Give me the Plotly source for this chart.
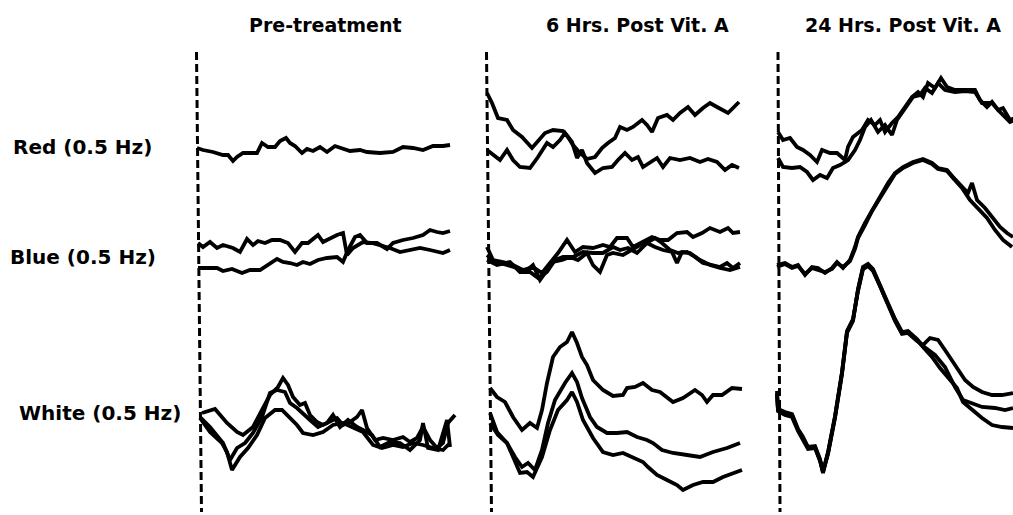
import plotly.graph_objects as go

# ---------------- data (time in samples, amplitude in arbitrary units) ----------------
panel_titles = ["Pre-treatment", "6 Hrs. Post Vit. A", "24 Hrs. Post Vit. A"]
row_labels = ["Red (0.5 Hz)", "Blue (0.5 Hz)", "White (0.5 Hz)"]

# ---- Pre-treatment ----
pre_red_t = [7, 13, 23, 33, 38, 43, 47, 53, 60, 67, 72, 78, 85, 90, 96, 100, 105, 112, 117, 123, 130, 137, 145, 153, 160, 170, 177, 190, 203, 213, 223, 233, 243, 253, 260]
pre_red_v = [2, 0, -2, -5, -5, -11, -7, -3, -3, -3, 7, 3, 3, 9, 12, 7, 4, -3, 1, -1, 3, -2, 4, 1, -1, 0, -2, -3, -2, 3, 2, 0, 4, 4, 5]

pre_blue1_t = [8, 13, 20, 27, 33, 43, 50, 57, 63, 68, 75, 82, 90, 98, 105, 112, 118, 128, 133, 140, 147, 153, 157, 163, 173, 182, 190, 200, 210, 220, 230, 240, 247, 253, 260]
pre_blue1_v = [12, 8, 13, 7, 10, 7, 3, 16, 10, 14, 12, 15, 15, 12, 3, 12, 12, 20, 13, 17, 20, 22, 0, 7, 13, 12, 10, 7, 3, 5, 7, 5, 3, 2, 5]
pre_blue2_t = [8, 17, 27, 33, 42, 52, 60, 70, 78, 87, 93, 100, 107, 113, 120, 128, 137, 147, 153, 158, 165, 170, 177, 187, 197, 203, 213, 223, 233, 240, 247, 253, 260]
pre_blue2_v = [-13, -13, -13, -16, -14, -18, -15, -15, -10, -4, -7, -8, -10, -7, -9, -5, -3, -2, -7, 5, 18, 20, 12, 12, 6, 12, 15, 17, 20, 25, 23, 22, 24]

pre_white1_t = [12, 25, 37, 47, 53, 63, 72, 80, 88, 93, 98, 103, 110, 115, 120, 127, 133, 140, 147, 153, 160, 167, 172, 177, 185, 193, 203, 213, 220, 227, 233, 240, 247, 253, 258, 265]
pre_white1_v = [2, 6, -8, -17, -20, -12, 5, 20, 28, 37, 30, 18, 10, 12, 0, -7, -10, -7, -3, -10, -7, -2, 5, -13, -25, -23, -25, -22, -27, -23, -12, -25, -33, -28, -8, 0]
pre_white2_t = [10, 20, 33, 40, 47, 55, 63, 72, 80, 87, 95, 100, 107, 113, 120, 128, 137, 143, 150, 158, 167, 173, 182, 190, 200, 210, 220, 230, 233, 238, 248, 257, 260]
pre_white2_v = [-2, -12, -28, -45, -33, -28, -18, -2, 22, 25, 23, 12, 7, 2, -5, -12, -8, 0, -12, -5, -12, -15, -20, -32, -27, -28, -35, -25, -8, -33, -35, -5, -32]
pre_white3_t = [10, 20, 32, 37, 42, 50, 58, 67, 75, 85, 92, 100, 107, 113, 123, 133, 143, 153, 163, 173, 183, 192, 203, 213, 223, 233, 243, 253, 260]
pre_white3_v = [-3, -17, -28, -37, -55, -42, -33, -20, -3, 5, 5, -3, -10, -18, -20, -17, -10, -8, -12, -17, -30, -33, -30, -32, -28, -30, -33, -35, -28]

# ---- 6 Hrs. Post Vit. A ----
h6_red1_t = [7, 12, 18, 27, 33, 42, 52, 57, 65, 73, 83, 88, 93, 100, 107, 115, 122, 128, 135, 140, 147, 153, 162, 167, 172, 178, 187, 193, 200, 208, 215, 223, 230, 237, 243, 248, 253, 259]
h6_red1_v = [57, 47, 32, 30, 20, 13, 2, 8, 17, 20, 19, 13, 5, -3, -9, -7, 2, 7, 12, 23, 20, 23, 30, 25, 18, 32, 35, 30, 37, 43, 35, 42, 47, 43, 40, 37, 42, 48]
h6_red2_t = [7, 13, 20, 27, 33, 40, 50, 58, 67, 73, 80, 85, 92, 97, 102, 107, 115, 123, 132, 138, 145, 152, 158, 163, 170, 177, 183, 190, 200, 210, 220, 228, 237, 245, 252, 259]
h6_red2_v = [0, -5, -10, 0, -10, -17, -18, -7, 7, 3, 10, 17, 8, -8, 0, -13, -23, -18, -17, -10, -3, -10, -7, -17, -13, -8, -17, -8, -10, -8, -12, -9, -12, -20, -15, -18]

h6_blue1_t = [7, 13, 23, 33, 43, 53, 62, 70, 78, 87, 95, 103, 113, 123, 130, 137, 147, 153, 163, 172, 180, 188, 197, 207, 213, 222, 230, 240, 248, 253, 260]
h6_blue1_v = [8, -5, -7, -10, -15, -12, -18, -8, 2, 15, 3, 8, 7, 10, 8, 17, 17, 8, 13, 18, 15, 15, 22, 23, 18, 22, 27, 23, 27, 22, 23]
h6_blue2_t = [7, 15, 27, 37, 45, 53, 60, 67, 73, 82, 90, 98, 107, 113, 120, 127, 133, 143, 152, 160, 168, 175, 182, 190, 198, 207, 215, 223, 232, 240, 247, 253, 260]
h6_blue2_v = [0, -7, -10, -13, -17, -10, -25, -15, -7, -5, -2, -5, 2, -10, -17, 0, 2, 0, 5, 10, 13, 17, 12, 5, 2, 3, -2, -8, -10, -12, -8, -13, -8]
h6_blue3_t = [7, 17, 30, 40, 50, 58, 67, 75, 83, 93, 103, 113, 123, 133, 140, 148, 157, 167, 175, 183, 192, 197, 202, 210, 220, 230, 240, 250, 260]
h6_blue3_v = [-5, -10, -7, -17, -17, -23, -17, -5, -2, -2, 3, 2, 2, 8, 5, 7, 2, 12, 8, 5, 3, -8, 3, 2, -5, -10, -13, -15, -12]

h6_white1_t = [10, 17, 25, 33, 42, 50, 57, 62, 67, 73, 80, 87, 92, 97, 102, 107, 113, 123, 133, 143, 147, 155, 163, 172, 180, 187, 193, 203, 215, 222, 227, 233, 242, 252, 262]
h6_white1_v = [27, 18, 13, -2, -15, -8, -13, 5, 32, 58, 68, 73, 83, 72, 58, 50, 35, 25, 19, 20, 27, 28, 32, 25, 23, 18, 13, 17, 25, 20, 13, 20, 20, 27, 26]
h6_white2_t = [10, 17, 27, 35, 42, 48, 55, 62, 68, 75, 85, 92, 97, 102, 110, 117, 127, 137, 147, 157, 167, 173, 182, 193, 207, 220, 233, 247, 260]
h6_white2_v = [2, -17, -28, -42, -52, -48, -55, -35, -8, 15, 32, 42, 33, 17, -2, -12, -18, -18, -17, -22, -25, -28, -35, -38, -40, -42, -37, -33, -28]
h6_white3_t = [10, 18, 27, 33, 40, 47, 53, 62, 70, 78, 87, 92, 97, 103, 113, 123, 133, 143, 153, 163, 168, 177, 187, 197, 203, 213, 223, 233, 243, 253, 262]
h6_white3_v = [-8, -20, -28, -42, -58, -57, -62, -42, -15, 5, 15, 23, 13, -5, -23, -37, -40, -38, -42, -47, -52, -60, -65, -70, -75, -70, -67, -67, -62, -58, -55]

# ---- 24 Hrs. Post Vit. A ----
h24_red1_t = [8, 13, 20, 27, 33, 40, 47, 52, 60, 67, 75, 78, 83, 92, 98, 105, 110, 115, 122, 128, 135, 142, 148, 153, 158, 165, 171, 177, 185, 195, 205, 210, 217, 222, 228, 233, 240, 245]
h24_red1_v = [18, 10, 12, 3, 0, -5, -12, 0, -3, -3, -10, 3, 13, 20, 30, 25, 30, 18, 27, 33, 43, 53, 58, 53, 67, 62, 72, 63, 60, 60, 60, 50, 43, 48, 40, 42, 30, 32]
h24_red2_t = [8, 13, 22, 30, 37, 43, 50, 57, 63, 70, 78, 85, 90, 95, 101, 108, 115, 122, 127, 135, 143, 150, 155, 162, 168, 175, 185, 195, 205, 212, 222, 230, 240, 245]
h24_red2_v = [-8, -17, -18, -17, -22, -30, -25, -28, -18, -15, -10, 0, 10, 23, 30, 18, 25, 15, 30, 42, 53, 55, 62, 57, 67, 60, 58, 59, 58, 47, 47, 38, 28, 30]

h24_blue1_t = [7, 15, 22, 28, 35, 42, 48, 55, 62, 67, 73, 80, 85, 88, 95, 102, 110, 118, 125, 133, 143, 153, 162, 168, 177, 183, 192, 198, 202, 207, 215, 223, 230, 237, 243]
h24_blue1_v = [-10, -8, -12, -10, -20, -12, -13, -18, -13, -7, -13, -5, 8, 18, 32, 45, 58, 72, 82, 88, 93, 96, 92, 87, 85, 78, 68, 62, 72, 55, 47, 37, 28, 22, 18]
h24_blue2_t = [7, 15, 22, 28, 35, 42, 48, 55, 62, 67, 73, 80, 85, 88, 95, 102, 110, 118, 125, 133, 143, 153, 162, 168, 177, 183, 192, 200, 208, 217, 225, 233, 242]
h24_blue2_v = [-12, -9, -13, -11, -19, -13, -15, -17, -14, -8, -12, -6, 6, 17, 30, 44, 57, 70, 81, 87, 92, 95, 91, 86, 84, 77, 67, 55, 47, 37, 25, 15, 8]

h24_white1_t = [7, 8, 15, 22, 28, 33, 38, 45, 50, 53, 58, 65, 72, 77, 83, 88, 93, 98, 103, 110, 117, 125, 132, 138, 147, 153, 162, 170, 178, 187, 193, 202, 212, 222, 232, 243]
h24_white1_v = [22, 5, 2, 0, -15, -23, -33, -32, -45, -58, -38, -2, 42, 83, 95, 125, 147, 150, 145, 130, 113, 95, 82, 83, 75, 68, 58, 47, 38, 27, 13, 5, -3, -10, -12, -13]
h24_white2_t = [7, 8, 15, 22, 28, 33, 38, 45, 50, 53, 58, 65, 72, 77, 83, 88, 93, 98, 103, 110, 117, 125, 132, 138, 147, 153, 160, 168, 175, 182, 190, 195, 203, 212, 222, 232, 243]
h24_white2_v = [20, 4, 0, -2, -16, -25, -34, -33, -46, -57, -37, -1, 43, 84, 96, 124, 146, 149, 144, 129, 112, 94, 81, 82, 74, 70, 77, 75, 65, 55, 42, 35, 28, 23, 20, 20, 22]
h24_white3_t = [7, 8, 15, 22, 28, 33, 38, 45, 50, 53, 58, 65, 72, 77, 83, 88, 93, 98, 103, 110, 117, 125, 132, 138, 147, 153, 165, 175, 185, 193, 202, 212, 225, 235, 243]
h24_white3_v = [24, 6, 3, 1, -14, -22, -32, -31, -44, -56, -39, -3, 41, 82, 94, 126, 148, 151, 146, 131, 114, 96, 83, 84, 76, 69, 60, 48, 28, 15, 12, 8, 7, 5, 7]

# ---------------- layout constants ----------------
W, H = 1013, 515
row_offset = {"Red": 365, "Blue": 260, "White": 100}
panels = [
    {"axis": "x", "dom": (190, 470), "span": 280, "stim": (6.5, 11.5)},
    {"axis": "x2", "dom": (480, 760), "span": 280, "stim": (6.5, 11.5)},
    {"axis": "x3", "dom": (770, 1013), "span": 243, "stim": (8, 10)},
]
traces_by_panel = [
    [("Red", pre_red_t, pre_red_v), ("Blue", pre_blue1_t, pre_blue1_v), ("Blue", pre_blue2_t, pre_blue2_v),
     ("White", pre_white1_t, pre_white1_v), ("White", pre_white2_t, pre_white2_v), ("White", pre_white3_t, pre_white3_v)],
    [("Red", h6_red1_t, h6_red1_v), ("Red", h6_red2_t, h6_red2_v),
     ("Blue", h6_blue1_t, h6_blue1_v), ("Blue", h6_blue2_t, h6_blue2_v), ("Blue", h6_blue3_t, h6_blue3_v),
     ("White", h6_white1_t, h6_white1_v), ("White", h6_white2_t, h6_white2_v), ("White", h6_white3_t, h6_white3_v)],
    [("Red", h24_red1_t, h24_red1_v), ("Red", h24_red2_t, h24_red2_v),
     ("Blue", h24_blue1_t, h24_blue1_v), ("Blue", h24_blue2_t, h24_blue2_v),
     ("White", h24_white1_t, h24_white1_v), ("White", h24_white2_t, h24_white2_v), ("White", h24_white3_t, h24_white3_v)],
]

fig = go.Figure()
for p, trs in zip(panels, traces_by_panel):
    # stimulus onset marker (dashed)
    fig.add_trace(go.Scatter(x=[p["stim"][0], p["stim"][1]], y=[463, 3], mode="lines",
                             xaxis=p["axis"], yaxis="y",
                             line=dict(color="black", width=3, dash="8px,4px"),
                             hoverinfo="skip", showlegend=False))
    for row, t, v in trs:
        off = row_offset[row]
        fig.add_trace(go.Scatter(x=t, y=[off + a for a in v], mode="lines",
                                 xaxis=p["axis"], yaxis="y",
                                 line=dict(color="black", width=3.8),
                                 hoverinfo="skip", showlegend=False))

ax_common = dict(visible=False, showgrid=False, zeroline=False, fixedrange=True)
fig.update_layout(
    width=W, height=H,
    margin=dict(l=0, r=0, t=0, b=0),
    paper_bgcolor="white", plot_bgcolor="white",
    showlegend=False,
    yaxis=dict(range=[0, H], domain=[0, 1], **ax_common),
)
for i, p in enumerate(panels):
    key = "xaxis" if i == 0 else f"xaxis{i+1}"
    fig.layout[key] = dict(range=[0, p["span"]], domain=[p["dom"][0] / W, p["dom"][1] / W],
                           anchor="y", **ax_common)

title_font = dict(family="DejaVu Sans", size=19, color="black", weight="bold")
label_font = dict(family="DejaVu Sans", size=20, color="black", weight="bold")
title_x = [325, 637, 903]
for tx, txt in zip(title_x, panel_titles):
    fig.add_annotation(x=tx / W, y=1 - 25 / H, xref="paper", yref="paper", text=txt,
                       showarrow=False, xanchor="center", yanchor="middle", font=title_font)
label_pos = [(11, 147), (8, 257), (17, 413)]
for (lx, ly), txt in zip(label_pos, row_labels):
    fig.add_annotation(x=lx / W, y=1 - ly / H, xref="paper", yref="paper", text=txt,
                       showarrow=False, xanchor="left", yanchor="middle", font=label_font)

fig.write_html("out.html")
